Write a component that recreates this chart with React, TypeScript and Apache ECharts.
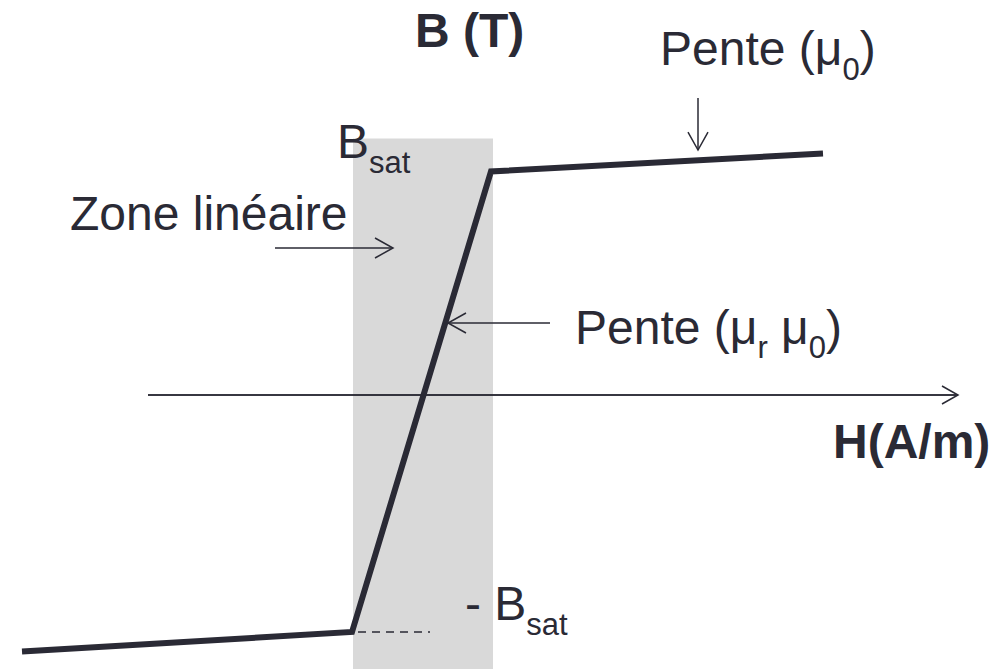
import { useEffect, useRef } from "react";
import * as echarts from "echarts";

// Piecewise-linear magnetisation curve B(H): saturation, linear zone, saturation
const curveH = [-4.02, -0.72, 0.67, 3.99];
const curveB = [-1.71, -1.58, 1.49, 1.61];

// Linear zone band (H range) and its top (B)
const zoneH = [-0.71, 0.69];
const zoneTopB = 1.71;

// Short dashed marker at -Bsat
const dashH = [-0.66, 0.06];
const dashB = -1.58;

// Horizontal H axis extent
const axisH = [-2.76, 5.34];

// Hidden value-axis ranges
const hRange = [-4.24, 5.81];
const bRange = [-1.8267, 2.6333];

// Annotation arrows [fromH, fromB, toH, toB]
const arrowZone = [-1.49, 0.98, -0.31, 0.98];
const arrowSlope = [1.26, 0.48, 0.24, 0.48];
const arrowMu0 = [2.74, 1.98, 2.74, 1.633];

const INK = "#2a2a35";
const FONT = "'Liberation Sans', Arial, Helvetica, sans-serif";

// Text labels: rich text + anchor (left, middle) in data units
const labels: { text: string; at: [number, number]; bold?: boolean }[] = [
  { text: "{m|B (T)}", at: [-0.09, 2.433], bold: true },
  { text: "{m|Pente (μ}{s|0}{m|)}", at: [2.36, 2.307] },
  { text: "{m|B}{s|sat}", at: [-0.87, 1.687] },
  { text: "{m|Zone linéaire}", at: [-3.54, 1.213] },
  { text: "{m|Pente (μ}{s|r}{m| μ}{s|0}{m|)}", at: [1.51, 0.453] },
  { text: "{m|H(A/m)}", at: [4.09, -0.307], bold: true },
  { text: "{m|- B}{s|sat}", at: [0.41, -1.393] },
];

export default function App() {
  const ref = useRef<HTMLDivElement>(null);

  useEffect(() => {
    const el = ref.current!;
    const chart = echarts.init(el, null, { renderer: "svg" });

    chart.setOption({
      animation: false,
      backgroundColor: "#ffffff",
      grid: { left: 0, right: 0, top: 0, bottom: 0 },
      xAxis: { type: "value", min: hRange[0], max: hRange[1], show: false },
      yAxis: { type: "value", min: bRange[0], max: bRange[1], show: false },
      series: [
        {
          name: "zone",
          type: "line",
          data: [],
          silent: true,
          z: 1,
          markArea: {
            silent: true,
            itemStyle: { color: "#d9d9d9", opacity: 1 },
            data: [
              [
                { coord: [zoneH[0], zoneTopB] },
                { coord: [zoneH[1], bRange[0]] },
              ],
            ],
          },
        },
        {
          name: "H axis",
          type: "line",
          symbol: "none",
          silent: true,
          z: 3,
          data: [
            [axisH[0], 0],
            [axisH[1], 0],
          ],
          lineStyle: { color: INK, width: 1.5 },
        },
        {
          name: "-Bsat",
          type: "line",
          symbol: "none",
          silent: true,
          z: 3,
          data: [
            [dashH[0], dashB],
            [dashH[1], dashB],
          ],
          lineStyle: { color: INK, width: 1.3, type: [8, 6] },
        },
        {
          name: "B(H)",
          type: "line",
          symbol: "none",
          silent: true,
          z: 4,
          data: curveH.map((h, i) => [h, curveB[i]]),
          lineStyle: { color: INK, width: 6, join: "miter", cap: "butt" },
        },
      ],
    });

    const px = (h: number, b: number) =>
      chart.convertToPixel({ gridIndex: 0 }, [h, b]) as number[];

    const graphics: any[] = [];

    const arrow = (a: number[], headLen: number, headHalf: number, width: number) => {
      const p0 = px(a[0], a[1]);
      const p1 = px(a[2], a[3]);
      const dx = p1[0] - p0[0];
      const dy = p1[1] - p0[1];
      const len = Math.hypot(dx, dy);
      const ux = dx / len;
      const uy = dy / len;
      const nx = -uy;
      const ny = ux;
      graphics.push({
        type: "line",
        silent: true,
        z: 10,
        shape: { x1: p0[0], y1: p0[1], x2: p1[0], y2: p1[1] },
        style: { stroke: INK, lineWidth: width },
      });
      graphics.push({
        type: "polyline",
        silent: true,
        z: 10,
        shape: {
          points: [
            [p1[0] - ux * headLen + nx * headHalf, p1[1] - uy * headLen + ny * headHalf],
            [p1[0], p1[1]],
            [p1[0] - ux * headLen - nx * headHalf, p1[1] - uy * headLen - ny * headHalf],
          ],
        },
        style: { stroke: INK, lineWidth: width, fill: null },
      });
    };

    arrow([axisH[0], 0, axisH[1], 0], 16, 9, 1.5);
    arrow(arrowZone, 18, 10, 1.5);
    arrow(arrowSlope, 18, 10, 1.5);
    arrow(arrowMu0, 18, 10, 1.5);

    labels.forEach((l) => {
      const p = px(l.at[0], l.at[1]);
      graphics.push({
        type: "text",
        silent: true,
        z: 12,
        x: p[0],
        y: p[1],
        style: {
          text: l.text,
          align: "left",
          verticalAlign: "middle",
          rich: {
            m: {
              fill: INK,
              fontFamily: FONT,
              fontSize: 48,
              fontWeight: l.bold ? "bold" : "normal",
              lineHeight: 72,
              verticalAlign: "middle",
            },
            s: {
              fill: INK,
              fontFamily: FONT,
              fontSize: 31,
              lineHeight: 31,
              verticalAlign: "bottom",
            },
          },
        },
      });
    });

    chart.setOption({ graphic: graphics });

    return () => chart.dispose();
  }, []);

  return (
    <div
      ref={ref}
      style={{
        position: "fixed",
        left: 0,
        top: 0,
        width: 1005,
        height: 669,
        background: "#ffffff",
      }}
    />
  );
}
